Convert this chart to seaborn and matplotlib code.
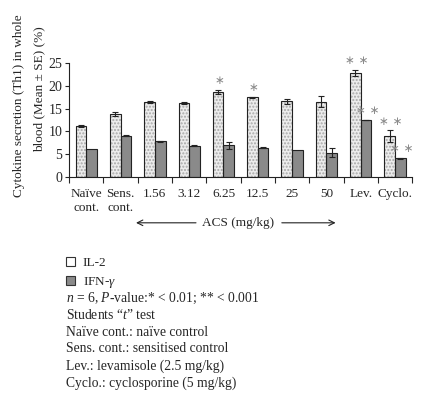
import numpy as np
import pandas as pd
import seaborn as sns
import matplotlib.pyplot as plt
from matplotlib.patches import Rectangle, Patch

sns.set_style("ticks")
plt.rcParams['font.family'] = ['Liberation Serif', 'DejaVu Serif']
plt.rcParams['mathtext.fontset'] = 'custom'
plt.rcParams['mathtext.rm'] = 'Liberation Serif'
plt.rcParams['mathtext.it'] = 'Liberation Serif:italic'

# data
groups = ['Naïve\ncont.', 'Sens.\ncont.', '1.56', '3.12', '6.25', '12.5', '25', '50', 'Lev.', 'Cyclo.']
il2 = [11.2, 13.8, 16.5, 16.3, 18.7, 17.5, 16.6, 16.5, 22.9, 9.0]
il2_se = [0.3, 0.5, 0.2, 0.2, 0.5, 0.15, 0.6, 1.2, 0.7, 1.3]
ifn = [6.1, 9.0, 7.8, 6.8, 6.9, 6.4, 6.0, 5.3, 12.5, 4.1]
ifn_se = [0.0, 0.1, 0.1, 0.1, 0.7, 0.1, 0.0, 1.0, 0.1, 0.1]
il2_sig = ['', '', '', '', '*', '*', '', '', '**', '**']
ifn_sig = ['', '', '', '', '', '', '', '', '**', '**']

df = pd.DataFrame({
    'group': groups * 2,
    'value': il2 + ifn,
    'se': il2_se + ifn_se,
    'sig': il2_sig + ifn_sig,
    'cytokine': ['IL-2'] * len(groups) + ['IFN-γ'] * len(groups),
})

fig = plt.figure(figsize=(4.32, 4.0), dpi=100)
ax = fig.add_axes([0.16, 0.558, 0.794, 0.284])

sns.barplot(data=df, x='group', y='value', hue='cytokine', errorbar=None,
            palette={'IL-2': '#ececec', 'IFN-γ': '#8a8a8a'}, width=0.62, gap=0,
            edgecolor='#222222', linewidth=0.8, legend=False, ax=ax)

bars = [p for p in ax.patches if isinstance(p, Rectangle)]
n = len(groups)
for i, p in enumerate(bars):
    row = df.iloc[i]
    cx = p.get_x() + p.get_width() / 2
    h = p.get_height()
    if i < n:
        # dotted fill for IL-2, then a dark outline on top
        p.set_edgecolor('#a8a8a8')
        p.set_hatch('.....')
        p.set_linewidth(0)
        ax.add_patch(Rectangle(p.get_xy(), p.get_width(), h, fill=False,
                               ec='#222222', lw=0.8, zorder=p.get_zorder() + 0.1))
    if row['se'] > 0:
        ax.errorbar(cx, h, yerr=row['se'], fmt='none', ecolor='#222222',
                    elinewidth=0.8, capsize=2.5, capthick=0.8, zorder=5)
    if row['sig']:
        ax.text(cx + 0.04, h + row['se'] + 0.5, ' '.join('∗' * len(row['sig'])),
                ha='center', va='bottom', fontsize=8.5, color='#8a8a8a',
                family=['DejaVu Sans'])

ax.set_xlim(-0.5, n - 0.5)
ax.set_ylim(0, 25)
ax.set_yticks([0, 5, 10, 15, 20, 25])
ax.set_xticks(np.arange(n - 0.5 + 1) - 0.5, minor=True)
ax.tick_params(axis='x', which='major', length=0, pad=8, labelsize=9.5)
ax.tick_params(axis='x', which='minor', length=4, width=0.8, direction='out')
ax.tick_params(axis='y', length=3, width=0.8, labelsize=10, pad=2)
ax.set_xlabel('')
ax.set_ylabel('')
for s in ['top', 'right']:
    ax.spines[s].set_visible(False)
for s in ['left', 'bottom']:
    ax.spines[s].set_linewidth(0.8)
    ax.spines[s].set_color('#222222')

fig.text(0.045, 1 - 106 / 400, 'Cytokine secretion (Th1) in whole', rotation=90,
         ha='center', va='center', fontsize=9.5)
fig.text(0.090, 1 - 89 / 400, 'blood (Mean ± SE) (%)', rotation=90,
         ha='center', va='center', fontsize=9.5)

# ACS dose range arrow
trans = ax.get_xaxis_transform()
ax.text(4.43, -0.405, 'ACS (mg/kg)', transform=trans, ha='center', va='center', fontsize=9.5)
ax.annotate('', xy=(1.37, -0.405), xytext=(3.28, -0.405), xycoords=trans, textcoords=trans,
            arrowprops=dict(arrowstyle='->', lw=0.8, color='#222222'), annotation_clip=False)
ax.annotate('', xy=(7.35, -0.405), xytext=(5.62, -0.405), xycoords=trans, textcoords=trans,
            arrowprops=dict(arrowstyle='->', lw=0.8, color='#222222'), annotation_clip=False)

handles = [Patch(facecolor='white', edgecolor='#333333', lw=0.8, label='IL-2'),
           Patch(facecolor='#8a8a8a', edgecolor='#333333', lw=0.8, label='IFN-$\\gamma$')]
fig.legend(handles=handles, loc='upper left', bbox_to_anchor=(0.152, 1 - 257 / 400),
           frameon=False, fontsize=9.5, handlelength=0.7, handleheight=0.7,
           handletextpad=0.6, labelspacing=0.45, borderpad=0, borderaxespad=0)

notes = ['$n$ = 6, $P$-value:* < 0.01; ** < 0.001',
         'Students “$t$” test',
         'Naïve cont.: naïve control',
         'Sens. cont.: sensitised control',
         'Lev.: levamisole (2.5 mg/kg)',
         'Cyclo.: cyclosporine (5 mg/kg)']
for k, line in enumerate(notes):
    fig.text(0.152, 1 - (298 + 17 * k) / 400, line, ha='left', va='center', fontsize=9.8)

fig.savefig('out.png', dpi=100)
